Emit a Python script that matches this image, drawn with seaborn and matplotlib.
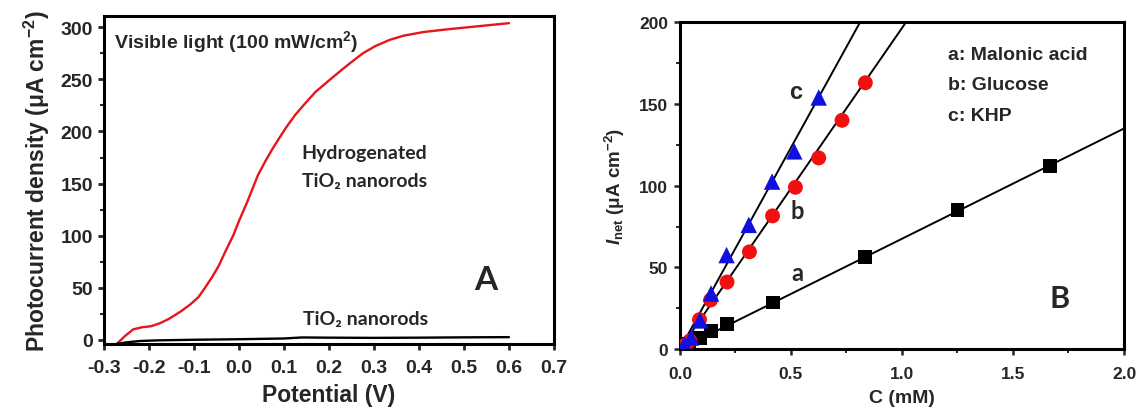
import numpy as np
import pandas as pd
import seaborn as sns
import matplotlib
matplotlib.use("Agg")
import matplotlib.pyplot as plt
from matplotlib.ticker import MultipleLocator

# ---------------- data: panel A ----------------
pot_red = [-0.275, -0.255, -0.235, -0.215, -0.195, -0.175, -0.156, -0.13, -0.108, -0.09, -0.077,
           -0.06, -0.045, -0.03, -0.013, 0.0, 0.018, 0.03, 0.042, 0.058, 0.074, 0.09, 0.105,
           0.125, 0.145, 0.17, 0.2, 0.225, 0.248, 0.275, 0.303, 0.335, 0.366, 0.41, 0.461, 0.53, 0.6]
cur_red = [-5.5, 3, 10, 12, 13, 16, 20, 27, 34, 41, 49,
           60, 71, 85, 100, 114, 132, 145, 158, 171, 183, 194, 204,
           216, 226, 238, 249, 258, 266, 275, 282, 288, 292, 295.5, 298, 301, 304]
pot_blk = [-0.272, -0.25, -0.22, -0.18, -0.1, 0.0, 0.1, 0.14, 0.2, 0.3, 0.4, 0.5, 0.6]
cur_blk = [-4.0, -2.5, -1.2, -0.6, 0.0, 0.5, 1.2, 2.2, 2.0, 1.8, 2.0, 2.3, 2.5]

# ---------------- data: panel B ----------------
conc_a = [0.04, 0.09, 0.14, 0.21, 0.42, 0.835, 1.25, 1.668]
inet_a = [3, 7, 11, 15.5, 28.5, 56.5, 85, 112]
conc_b = [0.025, 0.045, 0.088, 0.138, 0.212, 0.313, 0.417, 0.52, 0.625, 0.73, 0.835]
inet_b = [2.5, 5, 18, 30, 41, 59.5, 81.5, 99, 117, 140, 163]
conc_c = [0.02, 0.05, 0.09, 0.14, 0.21, 0.31, 0.415, 0.515, 0.625]
inet_c = [3, 7, 17.5, 34, 57.5, 76, 102.5, 121, 154]
fit_slopes = [67.5, 196.5, 246.6]      # slopes of the linear fits a, b, c (uA cm^-2 / mM)
fit_labels = ["a: Malonic acid", "b: Glucose", "c: KHP"]

# ---------------- style ----------------
sns.set_theme(style="ticks")
plt.rcParams["font.family"] = ["Liberation Sans", "DejaVu Sans"]
plt.rcParams["mathtext.fontset"] = "custom"
plt.rcParams["mathtext.rm"] = "Liberation Sans:bold"
plt.rcParams["mathtext.bf"] = "Liberation Sans:bold"
plt.rcParams["mathtext.it"] = "Liberation Sans:italic:bold"
plt.rcParams["axes.unicode_minus"] = False

fig = plt.figure(figsize=(11.38, 4.10), dpi=100)
axA = fig.add_axes([0.0914, 0.1585, 0.3954, 0.7993])
axB = fig.add_axes([0.5975, 0.1463, 0.3902, 0.7968])

calib = ["Lato", "DejaVu Sans"]

# ---- Panel A ----
sns.lineplot(x=pot_red, y=cur_red, ax=axA, color="#e8141b", lw=1.7, sort=False)
sns.lineplot(x=pot_blk, y=cur_blk, ax=axA, color="black", lw=1.7, sort=False)
axA.set_xlim(-0.3, 0.7)
axA.set_ylim(-4.1, 310.6)
axA.xaxis.set_major_locator(MultipleLocator(0.1))
axA.yaxis.set_major_locator(MultipleLocator(50))
axA.yaxis.set_minor_locator(MultipleLocator(25))
axA.set_xticklabels([f"{v:.1f}" for v in axA.get_xticks()])
axA.tick_params(axis="x", which="major", direction="out", length=4, width=2,
                labelsize=14, pad=7)
axA.tick_params(axis="y", which="major", direction="out", length=4, width=2,
                labelsize=14, pad=4)
axA.tick_params(axis="y", which="minor", direction="out", length=3, width=1.5)
for lab in axA.get_xticklabels() + axA.get_yticklabels():
    lab.set_fontweight("bold")
for s in axA.spines.values():
    s.set_linewidth(2.2)
    s.set_color("black")
axA.set_xlabel("Potential (V)", fontsize=16.5, fontweight="bold", labelpad=5)
axA.set_ylabel("Photocurrent density (μA cm$^{-2}$)", fontsize=16.5, fontweight="bold", labelpad=6)
axA.text(-0.277, 287, "Visible light (100 mW/cm$^{2}$)", fontsize=14, fontweight="bold",
         va="center", ha="left")
axA.text(0.139, 180, "Hydrogenated", fontsize=14, fontweight="bold", family=calib,
         va="center", ha="left")
axA.text(0.139, 152.7, "TiO₂ nanorods", fontsize=14, fontweight="bold", family=calib,
         va="center", ha="left")
axA.text(0.142, 20.8, "TiO₂ nanorods", fontsize=14, fontweight="bold", family=calib,
         va="center", ha="left")
axA.text(0.548, 57.6, "A", fontsize=24, fontweight="bold", family=calib, va="center", ha="center")

# ---- Panel B ----
df_a = pd.DataFrame({"C": conc_a, "I": inet_a})
df_b = pd.DataFrame({"C": conc_b, "I": inet_b})
df_c = pd.DataFrame({"C": conc_c, "I": inet_c})
xfit = np.array([0.0, 2.0])
for k in fit_slopes:
    sns.lineplot(x=xfit, y=k * xfit, ax=axB, color="black", lw=1.4)
sns.scatterplot(data=df_a, x="C", y="I", ax=axB, marker="s", s=100, color="black",
                edgecolor="none", zorder=3)
sns.scatterplot(data=df_b, x="C", y="I", ax=axB, marker="o", s=115, color="#f01010",
                edgecolor="none", zorder=3)
sns.scatterplot(data=df_c, x="C", y="I", ax=axB, marker="^", s=140, color="#1010e0",
                edgecolor="none", zorder=4)
axB.set_xlim(0, 2.0)
axB.set_ylim(0, 200)
axB.xaxis.set_major_locator(MultipleLocator(0.5))
axB.xaxis.set_minor_locator(MultipleLocator(0.25))
axB.yaxis.set_major_locator(MultipleLocator(50))
axB.yaxis.set_minor_locator(MultipleLocator(25))
axB.set_xticklabels([f"{v:.1f}" for v in axB.get_xticks()])
axB.tick_params(axis="x", which="major", direction="out", length=4.5, width=1.8,
                labelsize=12.5, pad=7.5)
axB.tick_params(axis="y", which="major", direction="out", length=4.5, width=1.8,
                labelsize=12.5, pad=4)
axB.tick_params(axis="both", which="minor", direction="out", length=3, width=1.4)
for lab in axB.get_xticklabels() + axB.get_yticklabels():
    lab.set_fontweight("bold")
for s in axB.spines.values():
    s.set_linewidth(2.2)
    s.set_color("black")
axB.set_xlabel("C (mM)", fontsize=14, fontweight="bold", labelpad=6)
axB.set_ylabel(r"$\mathit{I}_{\mathrm{net}}$ (μA cm$^{-2}$)", fontsize=13.5,
               fontweight="bold", labelpad=9)
for i, lab in enumerate(fit_labels):
    axB.text(1.209, 180.3 - 18.6 * i, lab, fontsize=14, fontweight="bold",
             va="center", ha="left")
axB.text(0.522, 157.8, "c", fontsize=17, fontweight="bold", va="center", ha="center")
axB.text(0.53, 84.7, "b", fontsize=17, fontweight="bold", family=calib, va="center", ha="center")
axB.text(0.53, 47, "a", fontsize=17, fontweight="bold", family=calib, va="center", ha="center")
axB.text(1.709, 31.5, "B", fontsize=22, fontweight="bold", family=calib, va="center", ha="center")

fig.savefig("out.png", dpi=100)
